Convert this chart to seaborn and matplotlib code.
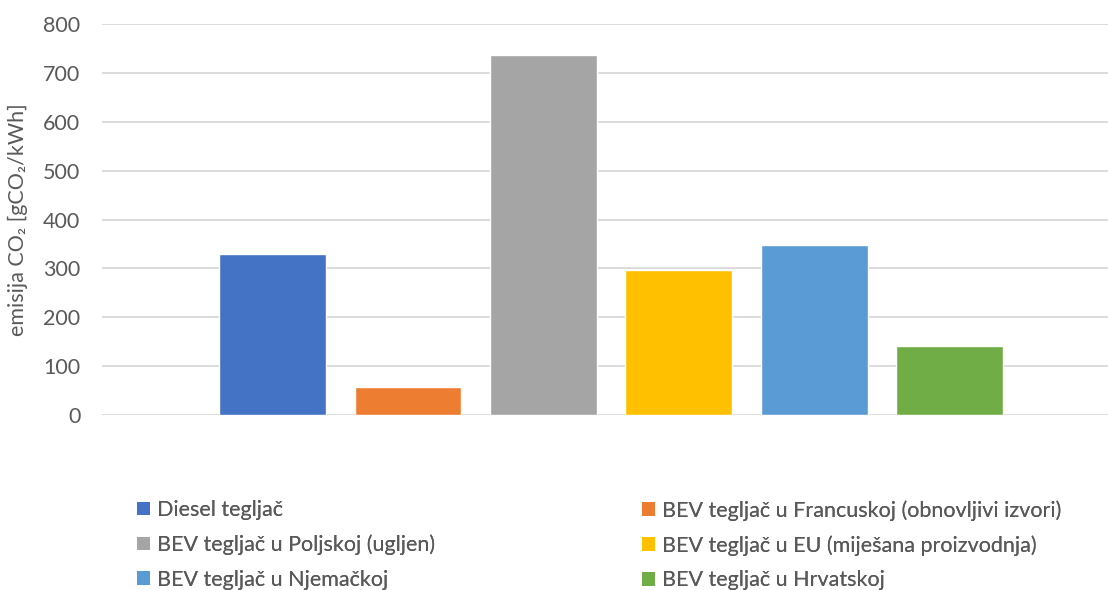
import matplotlib
matplotlib.use("Agg")
import matplotlib.pyplot as plt
import seaborn as sns
import pandas as pd
from matplotlib.patches import Patch

# Emission intensity per power source (gCO2/kWh)
series = [
    "Diesel tegljač",
    "BEV tegljač u Francuskoj (obnovljivi izvori)",
    "BEV tegljač u Poljskoj (ugljen)",
    "BEV tegljač u EU (miješana proizvodnja)",
    "BEV tegljač u Njemačkoj",
    "BEV tegljač u Hrvatskoj",
]
values = [330, 58, 737, 297, 348, 142]
colors = ["#4472C4", "#ED7D31", "#A5A5A5", "#FFC000", "#5B9BD5", "#70AD47"]
yticks = [0, 100, 200, 300, 400, 500, 600, 700, 800]

sns.set_theme(style="white")
plt.rcParams["font.family"] = ["Lato", "DejaVu Sans"]

df = pd.DataFrame({"serija": series, "emisija": values})

W, H = 1108, 590
FS = 15.5
TXT = "#595959"
fig = plt.figure(figsize=(W / 100, H / 100), dpi=100)
ax = fig.add_axes([102 / W, (H - 415) / H, (W - 102) / W, (415 - 24) / H])

sns.barplot(data=df, x="serija", y="emisija", hue="serija",
            palette=colors, order=series, hue_order=series,
            dodge=False, width=0.79, saturation=1, legend=False, ax=ax)

ax.set_xlim(-1.26, 6.17)
ax.set_ylim(0, 800)
ax.set_yticks(yticks)
ax.set_yticklabels([str(t) for t in yticks])
ax.set_xticks([])
ax.set_xlabel("")
ax.set_ylabel("")
ax.tick_params(axis="y", length=0, labelsize=FS, labelcolor=TXT, pad=15.5)
ax.yaxis.grid(True, color="#D9D9D9", linewidth=1.3)
ax.set_axisbelow(True)
for s in ax.spines.values():
    s.set_visible(False)
fig.text(18 / W, 1 - 220 / H, "emisija CO₂ [gCO₂/kWh]", rotation=90,
         ha="center", va="center", fontsize=FS, color=TXT)

handles = [Patch(facecolor=c, edgecolor="none") for c in colors]
# legend split into a left and a right column
for col, x0 in ((0, 137), (1, 642)):
    idx = [col, col + 2, col + 4]
    leg = fig.legend([handles[i] for i in idx], [series[i] for i in idx],
                     ncol=1, loc="upper left",
                     bbox_to_anchor=(x0 / W, 1 - 500 / H),
                     frameon=False, fontsize=FS, labelcolor=TXT,
                     handlelength=0.6, handleheight=0.6, handletextpad=0.35,
                     labelspacing=0.68, borderaxespad=0, borderpad=0)
    fig.add_artist(leg)

fig.savefig("out.png", dpi=100)
